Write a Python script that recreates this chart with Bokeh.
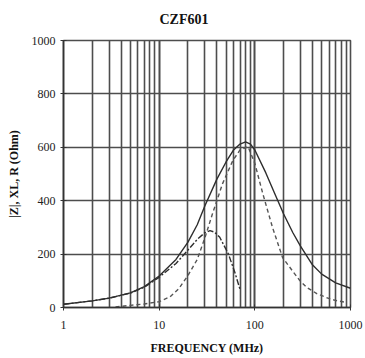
from bokeh.plotting import figure
from bokeh.models import FixedTicker, LogTicker, Title
from bokeh.embed import file_html
from bokeh.resources import INLINE

# Impedance vs frequency for the ferrite chip bead
freq_z = [1, 2, 3, 5, 7, 10, 15, 20, 25, 30, 40, 50, 60, 70, 80, 90, 100, 130, 160, 200, 250, 300, 400, 500, 700, 1000]
z_abs = [12, 25, 35, 55, 78, 118, 180, 245, 310, 380, 480, 545, 590, 612, 620, 612, 590, 505, 430, 350, 280, 230, 160, 125, 92, 72]

freq_r = [3.5, 5, 7, 10, 13, 16, 20, 25, 30, 36, 46, 59, 70, 85, 100, 121, 153, 195, 250, 295, 350, 444, 600, 710, 900]
r_val = [2, 8, 13, 22, 40, 70, 120, 180, 260, 350, 464, 551, 590, 602, 540, 427, 300, 187, 135, 101, 75, 52, 33, 26, 19]

freq_x = [1, 2, 3, 5, 7, 10, 15, 20, 25, 30, 34, 38, 43, 53, 62, 70]
xl_val = [12, 25, 35, 54, 76, 113, 165, 215, 255, 280, 288, 282, 263, 200, 130, 68]

y_ticks = [0, 200, 400, 600, 800, 1000]

grid_col = "#4d4d4d"
ink = "#2e2e2e"

p = figure(width=365, height=358, x_axis_type="log", x_range=(1, 1000), y_range=(0, 1000),
           output_backend="svg", toolbar_location=None,
           min_border_left=63, min_border_right=15, min_border_top=40, min_border_bottom=51)

p.title = Title(text="CZF601", align="left", offset=96, standoff=23, vertical_align="top",
                text_font="Liberation Serif", text_font_size="14px", text_font_style="bold",
                text_color="#111111")

p.line(freq_z, z_abs, line_color=ink, line_width=1.4)
p.line(freq_r, r_val, line_color="#555555", line_width=1.4, line_dash="4 3")
p.line(freq_x, xl_val, line_color=ink, line_width=1.4, line_dash="6 2 2 2")

p.xaxis.ticker = LogTicker(num_minor_ticks=10)
p.yaxis.ticker = FixedTicker(ticks=y_ticks)

p.xgrid.grid_line_color = grid_col
p.xgrid.grid_line_width = 1.6
p.xgrid.minor_grid_line_color = grid_col
p.xgrid.minor_grid_line_width = 1.6
p.ygrid.grid_line_color = grid_col
p.ygrid.grid_line_width = 1.6

p.outline_line_color = grid_col
p.outline_line_width = 1.6

for ax in (p.xaxis[0], p.yaxis[0]):
    ax.axis_line_color = "#333333"
    ax.axis_line_width = 1.6
    ax.major_tick_line_color = "#333333"
    ax.major_tick_in = 3
    ax.major_tick_out = 3
    ax.minor_tick_line_color = None
    ax.major_label_text_font = "Liberation Serif"
    ax.major_label_text_font_size = "12px"
    ax.major_label_text_color = "#222222"
    ax.axis_label_text_font = "Liberation Serif"
    ax.axis_label_text_font_size = "12px"
    ax.axis_label_text_font_style = "bold"
    ax.axis_label_text_color = "#111111"

p.xaxis.major_label_standoff = 9
p.xaxis.axis_label = "FREQUENCY (MHz)"
p.xaxis.axis_label_standoff = 9
p.yaxis.axis_label = "|Z|, XL, R (Ohm)"
p.yaxis.axis_label_standoff = 8
p.xaxis.major_label_overrides = {1: "1", 10: "10", 100: "100", 1000: "1000"}

open("out.html", "w").write(file_html(p, INLINE))
